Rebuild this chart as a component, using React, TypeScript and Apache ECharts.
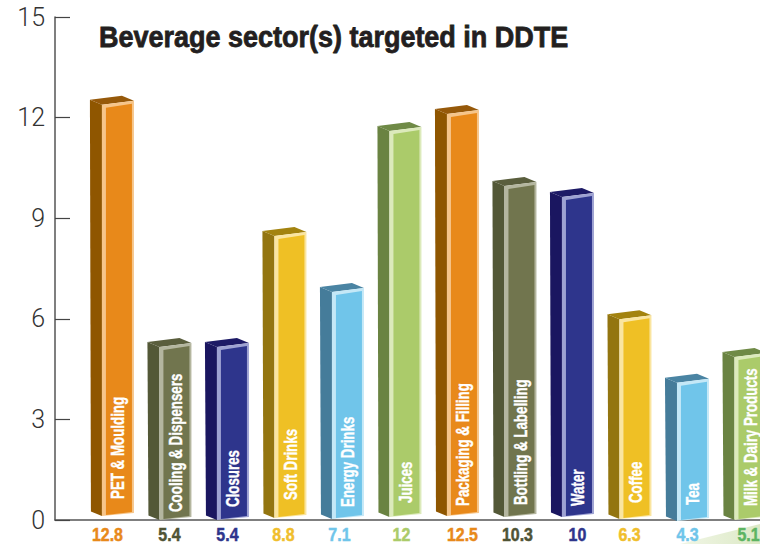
import React, { useEffect, useRef } from "react";
import * as echarts from "echarts";

const categories = ["PET & Moulding", "Cooling & Dispensers", "Closures", "Soft Drinks", "Energy Drinks", "Juices", "Packaging & Filling", "Bottling & Labelling", "Water", "Coffee", "Tea", "Milk & Dairy Products"];
const printedValues = ["12.8", "5.4", "5.4", "8.8", "7.1", "12", "12.5", "10.3", "10", "6.3", "4.3", "5.1"];
// Height of each bar's front-top corner and foot, as drawn against the axis
const barTops = [12.38, 5.16, 5.16, 8.47, 6.8, 11.6, 12.11, 9.96, 9.63, 5.99, 4.09, 4.86];
const barFeet = [0.12, 0, 0, 0.06, 0.03, 0.09, 0.12, 0.09, 0.09, 0.03, -0.03, 0];
const palettes = ["orange", "olive", "navy", "yellow", "sky", "green", "orange", "olive", "navy", "yellow", "sky", "green"];
const yTicks = { min: 0, max: 15, interval: 3 };

const colours: Record<string, { main: string; side: string; top: string; light: string; label: string }> = {
  orange: { main: "#E8891A", side: "#8F5600", top: "#96590A", light: "#F6C58A", label: "#E8891A" },
  olive: { main: "#71754E", side: "#535837", top: "#5A5E3D", light: "#B4B69F", label: "#4F5335" },
  navy: { main: "#2E358C", side: "#1A1660", top: "#1D1A66", light: "#9EA2D2", label: "#2E358C" },
  yellow: { main: "#EFC025", side: "#937510", top: "#A3830F", light: "#FAE5A0", label: "#F0BE2C" },
  sky: { main: "#70C5EA", side: "#457C9A", top: "#4A84A3", light: "#C4E8F7", label: "#70C5EA" },
  green: { main: "#ABCB6A", side: "#6A8342", top: "#6F8A46", light: "#DCEABB", label: "#ABCB6A" },
};
const labelColourOverride: Record<number, string> = { 11: "#5DB462" };
const valueLabelNudge = [-4.5, 0, 0.5, -1, -2.5, 2, 5.5, 3, 5.5, 0, 0.5, 4];
const textInset = [17, 8, 13, 18, 12, 14, 10, 12, 11, 16, 16, 14];

const SANS = '"Liberation Sans", sans-serif';

function renderItem(params: any, api: any) {
  const i = params.dataIndex;
  const c = colours[palettes[i]];
  const [cx, fy] = api.coord([api.value(0), api.value(1)]);
  const [, by] = api.coord([api.value(0), api.value(2)]);
  const [, axisY] = api.coord([api.value(0), 0]);
  const fx = cx - 10;
  const w = 32;
  const poly = (points: number[][], fill: string, z2 = 1) => ({
    type: "polygon",
    z2,
    shape: { points },
    style: { fill },
  });
  const labelFill = labelColourOverride[i] ?? c.label;
  return {
    type: "group",
    children: [
      poly([[fx - 12, fy - 5], [fx, fy], [fx, by], [fx - 11, by - 4.5]], c.side),
      poly([[fx - 12, fy - 5], [fx + 20, fy - 9], [fx + w, fy - 4], [fx, fy]], c.top),
      poly([[fx, fy], [fx + w, fy - 4], [fx + w, by - 3], [fx, by]], c.light, 2),
      poly([[fx + 4, fy + 3], [fx + w - 2, fy - 1], [fx + w - 2, by - 4], [fx + 4, by - 1]], c.main, 3),
      {
        type: "text",
        z2: 4,
        x: fx + 16,
        y: by - textInset[i],
        rotation: Math.PI / 2,
        scaleX: 0.74,
        style: {
          text: categories[i],
          fill: "#FFFFFF",
          stroke: "#FFFFFF",
          lineWidth: 0.4,
          font: `bold 18px ${SANS}`,
          align: "left",
          verticalAlign: "middle",
        },
      },
      {
        type: "text",
        z2: 4,
        x: cx + valueLabelNudge[i],
        y: axisY + 14.5,
        scaleX: 0.84,
        style: {
          text: printedValues[i],
          fill: labelFill,
          stroke: labelFill,
          lineWidth: 0.5,
          font: `bold 19px ${SANS}`,
          align: "center",
          verticalAlign: "middle",
        },
      },
    ],
  };
}

export default function App() {
  const ref = useRef<HTMLDivElement>(null);
  useEffect(() => {
    document.body.style.margin = "0";
    const chart = echarts.init(ref.current!, undefined, { renderer: "svg" });
    chart.setOption({
      animation: false,
      backgroundColor: "#FFFFFF",
      grid: { left: 55, right: 0, top: 17, bottom: 24 },
      xAxis: {
        type: "value",
        min: -0.99,
        max: 11.27,
        axisLine: { show: true, onZero: false, lineStyle: { color: "#555555", width: 1.5 } },
        axisTick: { show: false },
        axisLabel: { show: false },
        splitLine: { show: false },
      },
      yAxis: {
        type: "value",
        min: yTicks.min,
        max: yTicks.max,
        interval: yTicks.interval,
        axisLine: { show: true, onZero: false, lineStyle: { color: "#555555", width: 1.5 } },
        axisTick: { show: true, inside: true, length: 15, lineStyle: { color: "#444444", width: 1.2 } },
        axisLabel: { margin: 10, fontFamily: "Roboto", fontWeight: 300, fontSize: 25, color: "#333333" },
        splitLine: { show: false },
      },
      graphic: [
        {
          type: "polygon",
          z: 0,
          silent: true,
          shape: { points: [[680, 544], [760, 524], [760, 544]] },
          style: {
            fill: new echarts.graphic.LinearGradient(0, 0, 1, 0, [
              { offset: 0, color: "#F1F6E6" },
              { offset: 1, color: "#DCE9C6" },
            ]),
          },
        },
        {
          type: "text",
          x: 99,
          y: 36,
          scaleX: 0.9,
          style: {
            text: "Beverage sector(s) targeted in DDTE",
            fill: "#231F20",
            stroke: "#231F20",
            lineWidth: 0.8,
            font: `bold 30px ${SANS}`,
            align: "left",
            verticalAlign: "middle",
          },
        },
      ],
      series: [
        {
          type: "custom",
          clip: false,
          renderItem,
          encode: { x: 0, y: 1 },
          data: barTops.map((top, i) => [i, top, barFeet[i]]),
        },
      ],
    });
    return () => chart.dispose();
  }, []);
  return <div ref={ref} style={{ width: 760, height: 544 }} />;
}
